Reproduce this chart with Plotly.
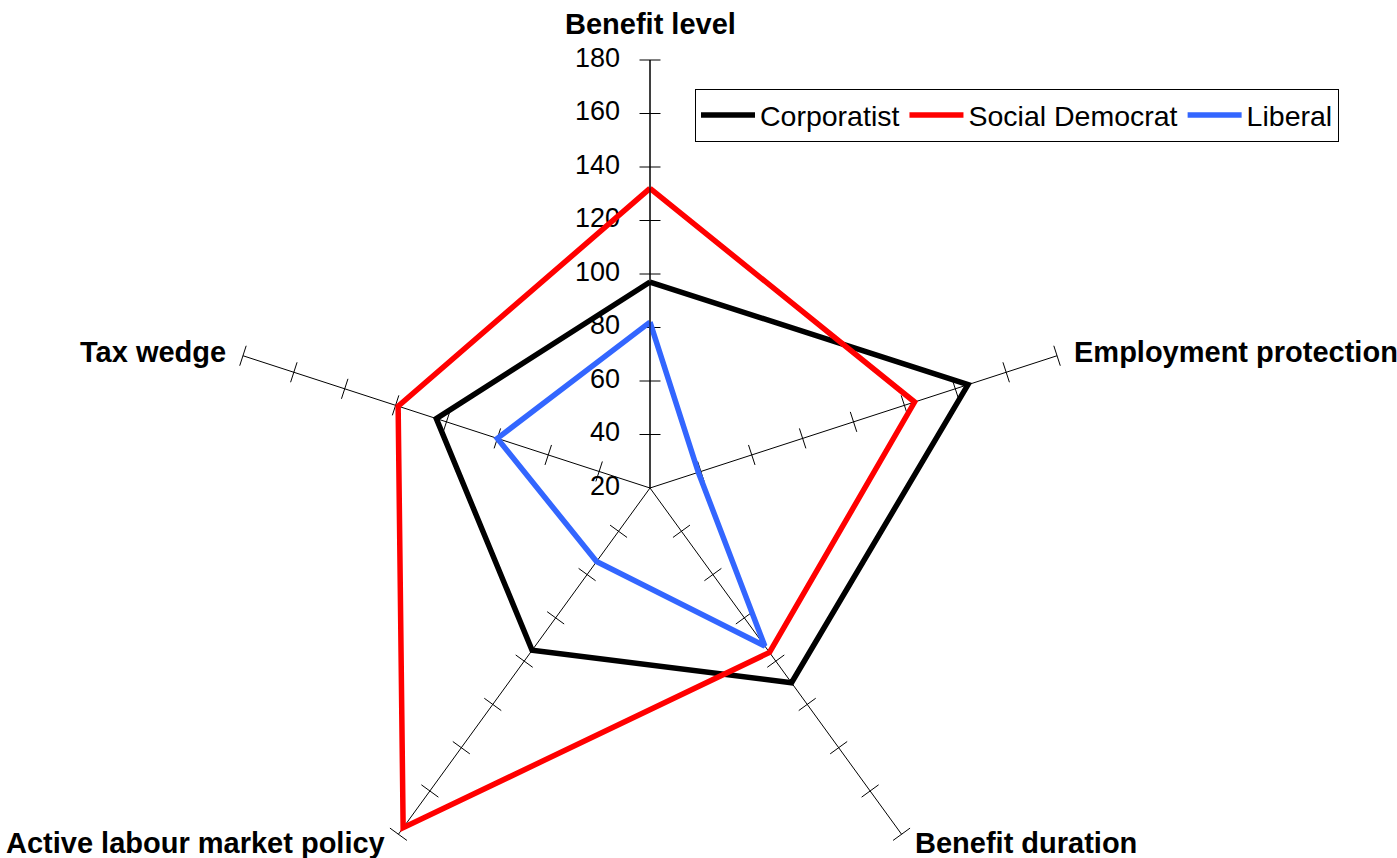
import plotly.graph_objects as go

categories = ["Benefit level", "Employment protection", "Benefit duration",
              "Active labour market policy", "Tax wedge"]
corporatist = [97, 145, 110, 95, 104]
social_democrat = [132, 124, 96, 177, 119]
liberal = [82, 39, 93, 54, 80]
tick_values = [20, 40, 60, 80, 100, 120, 140, 160, 180]

W, H = 1397, 920

fig = go.Figure()

# little cross ticks on every spoke, like the excel radar
for i, cat in enumerate(categories):
    fig.add_trace(go.Scatterpolar(
        r=tick_values[1:], theta=[cat] * (len(tick_values) - 1), mode="markers",
        marker=dict(symbol="line-ew", size=15, angle=72 * i - 180,
                    line=dict(color="black", width=1)),
        showlegend=False, hoverinfo="skip", cliponaxis=False))

# value labels sit left of the Benefit level spoke
fig.add_trace(go.Scatterpolar(
    r=tick_values, theta=[categories[0]] * len(tick_values), mode="text",
    text=[str(v) + "\u00a0" * 4 for v in tick_values],
    textposition="middle left", textfont=dict(size=27, color="black"),
    showlegend=False, hoverinfo="skip", cliponaxis=False))

series = [("Corporatist", corporatist, "#000000"),
          ("Social Democrat", social_democrat, "#FF0000"),
          ("Liberal", liberal, "#3366FF")]
for name, vals, col in series:
    fig.add_trace(go.Scatterpolar(
        r=vals + vals[:1], theta=categories + categories[:1], mode="lines",
        name=name, line=dict(color=col, width=5.5)))

# spoke names, placed like excel does them
label_pos = [(650, 24, "center"), (1072, 352, "left"), (913, 843, "left"),
             (387, 843, "right"), (228, 352, "right")]
for cat, (px_, py_, anchor) in zip(categories, label_pos):
    fig.add_annotation(text="<b>" + cat + "</b>", x=px_ / W, y=1 - py_ / H,
                       xref="paper", yref="paper", xanchor=anchor,
                       yanchor="middle", showarrow=False,
                       font=dict(size=29, color="black"))

# figure is taller than the window so the full circle fits; the lower
# part of the circle is empty and falls outside the view
fig.update_layout(
    width=W, height=H,
    margin=dict(l=0, r=0, t=0, b=0),
    paper_bgcolor="white", plot_bgcolor="white",
    font=dict(family="Liberation Sans, Arial", color="black"),
    polar=dict(
        domain=dict(x=[222 / W, 1078 / W], y=[4 / H, 860 / H]),
        bgcolor="white",
        radialaxis=dict(range=[20, 180], tick0=20, dtick=20, angle=90,
                        showgrid=False, showline=True, linecolor="black",
                        linewidth=1, ticks="", showticklabels=False),
        angularaxis=dict(rotation=90, direction="clockwise",
                         showline=False, showgrid=True, gridcolor="black",
                         gridwidth=1, ticks="", showticklabels=False),
    ),
    legend=dict(orientation="h", x=695 / W, y=1 - 89 / H, xanchor="left",
                yanchor="top", bordercolor="black", borderwidth=1,
                bgcolor="white", font=dict(size=28.5), itemwidth=54),
)

fig.write_html("out.html", config={"displayModeBar": False},
               post_script="document.body.style.margin='0';"
                           "document.body.style.overflow='hidden';")
